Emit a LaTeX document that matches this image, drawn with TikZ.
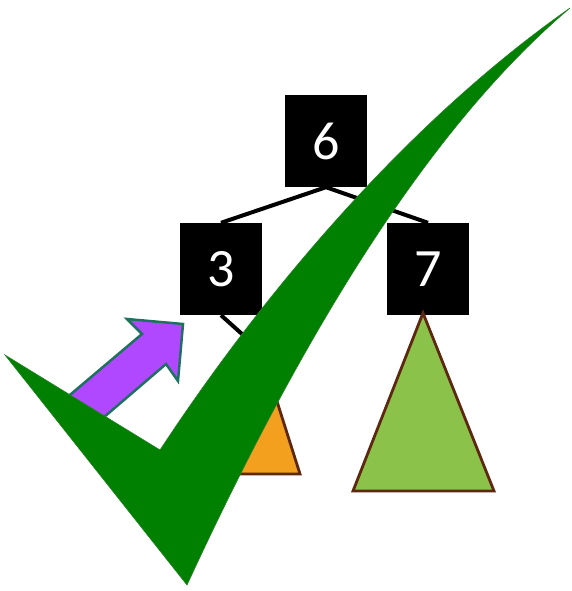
\documentclass[tikz,border=0pt]{standalone}
\usepackage{fontspec}
\setmainfont{Carlito}
\definecolor{checkgreen}{RGB}{0,128,0}
\definecolor{arrowpurple}{RGB}{176,72,255}
\definecolor{arrowedge}{RGB}{30,112,96}
\definecolor{subtreeorange}{RGB}{242,160,30}
\definecolor{subtreegreen}{RGB}{139,195,74}
\definecolor{subtreeedge}{RGB}{94,40,16}
\tikzset{
    keybox/.style={fill=black, text=white, minimum width=82pt, minimum height=92pt, inner sep=0pt, font=\fontsize{54}{54}\selectfont},
    treeedge/.style={line width=4pt},
    subtree/.style={draw=subtreeedge, line width=2.8pt, line join=miter}
}
\begin{document}
\begin{tikzpicture}[x=1pt, y=-1pt]
        \useasboundingbox (0,0) rectangle (572,591);
        \node at (326,141) (n6) [keybox] {6};
        \node at (221,269) (n3) [keybox] {3};
        \node at (428,269) (n7) [keybox] {7};
        \coordinate (ltop) at (261,351);
        \coordinate (rtop) at (423,313);
        \draw[treeedge] (n6.south) -- (n3.north);
        \draw[treeedge] (n6.south) -- (n7.north);
        \draw[treeedge] (n3.south) -- (ltop);
        \draw[subtree, fill=subtreeorange] (ltop) -- (300,474) -- (222,474) -- cycle;
        \draw[subtree, fill=subtreegreen] (rtop) -- (494,491) -- (353,491) -- cycle;
        % block arrow pointing at node 3
        \draw[arrowedge, fill=arrowpurple, line width=2.5pt, line join=miter]
            (183,324) -- (178,381) -- (166,364) -- (82,436) -- (58,405) -- (142,334) -- (127,319) -- cycle;
        % big tick on top
        \fill[checkgreen, draw=checkgreen!70!gray, line width=0.6pt]
            (5,355) -- (160,450) .. controls (265,290) and (410,120) .. (570,8)
            .. controls (438,120) and (313,312) .. (187,585) -- cycle;
\end{tikzpicture}
\end{document}
